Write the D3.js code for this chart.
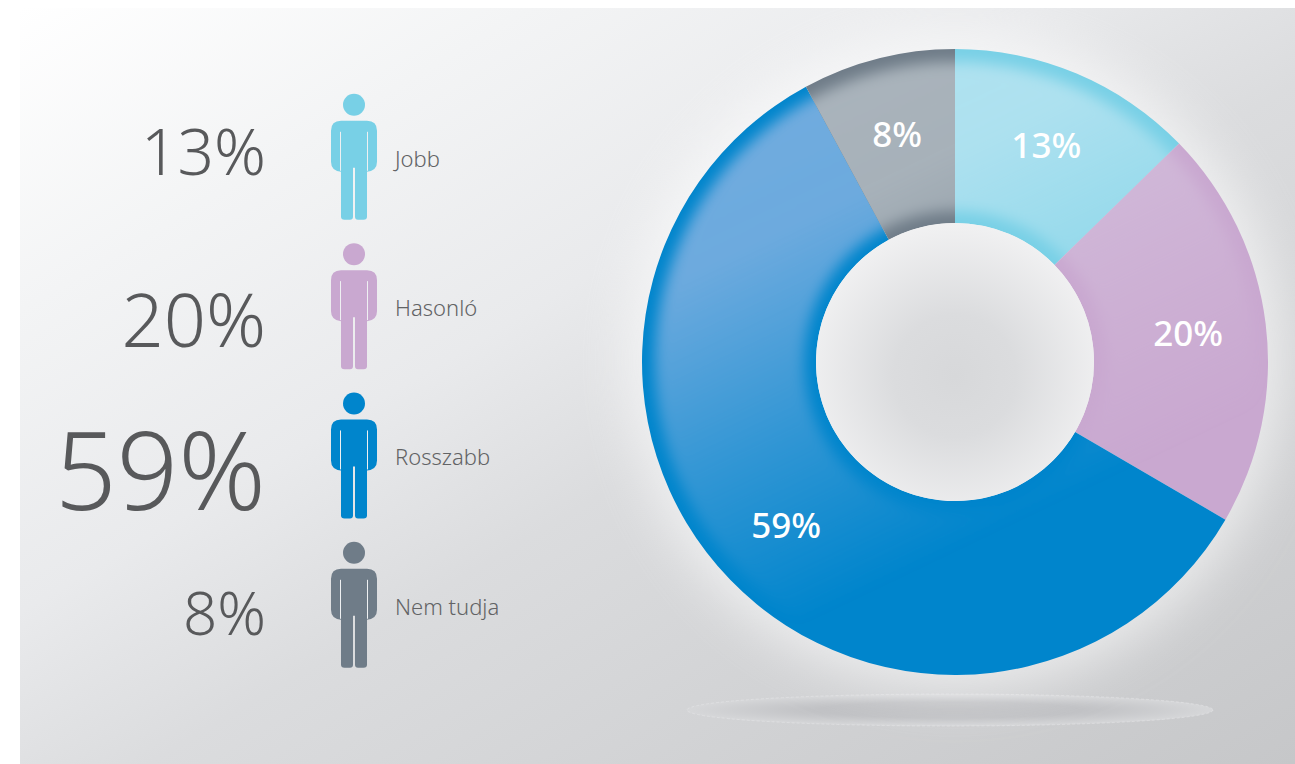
<!DOCTYPE html>
<html>
<head>
<meta charset="utf-8">
<script src="https://cdn.jsdelivr.net/npm/d3@7"></script>
<style>
html, body { margin: 0; padding: 0; background: #fff; }
svg { display: block; }
</style>
</head>
<body>
<div id="chart"></div>
<script>
var categories = ['Jobb', 'Hasonló', 'Rosszabb', 'Nem tudja'];
var percents = [13, 20, 59, 8];
// wedges in the picture are not cut exactly at the rounded percents
var wedgeShares = [12.7, 20.7, 58.7, 7.9];
var colors = ['#78d0e6', '#c9a8d0', '#0085cc', '#6f7c88'];
var highlights = ['#b0e2f0', '#d3bedb', '#72acdf', '#aab4bc'];
var bigFontSizes = [64, 74, 108, 60];
var bigBaselines = [70, 93, 107, 82];

var width = 1295, height = 764;
var cx = 955, cy = 362, outerR = 313, innerR = 139, labelR = 235;

var svg = d3.select('#chart').append('svg')
	.attr('width', width)
	.attr('height', height);
var defs = svg.append('defs');

var bg = defs.append('linearGradient').attr('id', 'bg')
	.attr('gradientUnits', 'userSpaceOnUse')
	.attr('x1', 20).attr('y1', 8).attr('x2', 683).attr('y2', 1126);
[[0, '#ffffff'], [0.2, '#f3f4f5'], [0.4, '#e9eaec'], [0.55, '#dbdcde'], [1, '#c6c7c9']].forEach(function(s) {
	bg.append('stop').attr('offset', s[0]).attr('stop-color', s[1]);
});

var hole = defs.append('radialGradient').attr('id', 'hole').attr('cy', '55%').attr('r', '55%');
hole.append('stop').attr('offset', 0).attr('stop-color', '#d7d8da');
hole.append('stop').attr('offset', 0.4).attr('stop-color', '#dbdcde');
hole.append('stop').attr('offset', 1).attr('stop-color', '#f1f1f2');

var shadow = defs.append('radialGradient').attr('id', 'shadow');
shadow.append('stop').attr('offset', 0).attr('stop-color', '#bdbec1');
shadow.append('stop').attr('offset', 0.5).attr('stop-color', '#c0c1c4');
shadow.append('stop').attr('offset', 1).attr('stop-color', '#d6d7d9');

defs.append('filter').attr('id', 'soft')
	.attr('x', '-30%').attr('y', '-30%').attr('width', '160%').attr('height', '160%')
	.append('feGaussianBlur').attr('stdDeviation', 7);
defs.append('filter').attr('id', 'halo')
	.attr('x', '-30%').attr('y', '-30%').attr('width', '160%').attr('height', '160%')
	.append('feGaussianBlur').attr('stdDeviation', 26);

svg.append('rect')
	.attr('x', 20).attr('y', 8)
	.attr('width', width - 20).attr('height', height - 8)
	.attr('fill', 'url(#bg)');

// floor shadow
svg.append('ellipse')
	.attr('cx', 950).attr('cy', 710).attr('rx', 263).attr('ry', 16)
	.attr('fill', 'url(#shadow)')
	.attr('stroke', '#e6e7e8').attr('stroke-width', 0.5).attr('stroke-dasharray', '3 2');

// donut
var g = svg.append('g').attr('transform', 'translate(' + cx + ',' + cy + ')');

g.append('circle').attr('r', outerR + 14)
	.attr('fill', '#ffffff').attr('opacity', 0.6)
	.attr('filter', 'url(#halo)');

var pie = d3.pie().sort(null).value(function(d) { return d; });
var slices = pie(wedgeShares);
var arc = d3.arc().innerRadius(innerR).outerRadius(outerR);
// the soft light band sits between the two rims
var band = d3.arc().innerRadius(innerR + 12).outerRadius(outerR - 13);

slices.forEach(function(s, i) {
	var light = defs.append('linearGradient').attr('id', 'light' + i)
		.attr('gradientUnits', 'userSpaceOnUse')
		.attr('x1', -190).attr('y1', -290).attr('x2', 30).attr('y2', 170);
	[[0, 1], [0.3, 0.95], [0.65, 0.45], [1, 0]].forEach(function(st) {
		light.append('stop').attr('offset', st[0])
			.attr('stop-color', highlights[i]).attr('stop-opacity', st[1]);
	});

	defs.append('clipPath').attr('id', 'clip' + i)
		.append('path').attr('d', arc(s));

	g.append('path').attr('d', arc(s)).attr('fill', colors[i]);
	g.append('g').attr('clip-path', 'url(#clip' + i + ')')
		.append('path')
		.attr('d', band({startAngle: s.startAngle - 0.2, endAngle: s.endAngle + 0.2}))
		.attr('fill', 'url(#light' + i + ')')
		.attr('filter', 'url(#soft)');
});

g.append('circle').attr('r', innerR).attr('fill', 'url(#hole)');

var labelArc = d3.arc().innerRadius(labelR).outerRadius(labelR);
g.selectAll('text.slice')
	.data(slices)
	.enter().append('text')
	.attr('class', 'slice')
	.attr('transform', function(d) { return 'translate(' + labelArc.centroid(d) + ')'; })
	.attr('text-anchor', 'middle')
	.attr('dy', '0.36em')
	.attr('fill', '#fff')
	.style('font', '500 35px "Noto Sans", sans-serif')
	.text(function(d, i) { return percents[i] + '%'; });

// legend people
var rowTop = d3.scalePoint().domain(categories).range([104.8, 552.8]);

function personBody() {
	var p = d3.path();
	p.moveTo(-23, 10);
	p.quadraticCurveTo(-23, 0, -13, 0);
	p.lineTo(13, 0);
	p.quadraticCurveTo(23, 0, 23, 10);
	p.lineTo(23, 41);
	p.quadraticCurveTo(23, 50, 13, 51);
	p.lineTo(13, 96);
	p.quadraticCurveTo(13, 99, 9.5, 99);
	p.lineTo(4, 99);
	p.quadraticCurveTo(1, 99, 1, 96);
	p.lineTo(1, 47);
	p.lineTo(-1, 47);
	p.lineTo(-1, 96);
	p.quadraticCurveTo(-1, 99, -4, 99);
	p.lineTo(-9.5, 99);
	p.quadraticCurveTo(-13, 99, -13, 96);
	p.lineTo(-13, 51);
	p.quadraticCurveTo(-23, 50, -23, 41);
	p.closePath();
	return p.toString();
}

var rows = svg.selectAll('g.row')
	.data(categories)
	.enter().append('g')
	.attr('class', 'row')
	.attr('transform', function(d) { return 'translate(354,' + rowTop(d) + ')'; });

rows.append('circle')
	.attr('r', 11)
	.attr('fill', function(d, i) { return colors[i]; });
rows.append('path')
	.attr('transform', 'translate(0,16)')
	.attr('d', personBody())
	.attr('fill', function(d, i) { return colors[i]; });
rows.selectAll('line.arm')
	.data([-13.5, 13.5])
	.enter().append('line')
	.attr('class', 'arm')
	.attr('x1', function(d) { return d; }).attr('x2', function(d) { return d; })
	.attr('y1', 27).attr('y2', 66)
	.attr('stroke', '#eef0f2').attr('stroke-width', 1);

rows.append('text')
	.attr('x', 41).attr('y', 62)
	.attr('fill', '#626365')
	.style('font', '300 22px "Noto Sans", sans-serif')
	.text(function(d) { return d; });

rows.append('text')
	.attr('x', -88)
	.attr('y', function(d, i) { return bigBaselines[i]; })
	.attr('text-anchor', 'end')
	.attr('fill', '#58595b')
	.style('font-family', '"Noto Sans", sans-serif')
	.style('font-weight', 300)
	.style('font-size', function(d, i) { return bigFontSizes[i] + 'px'; })
	.text(function(d, i) { return percents[i] + '%'; });
</script>
</body>
</html>
